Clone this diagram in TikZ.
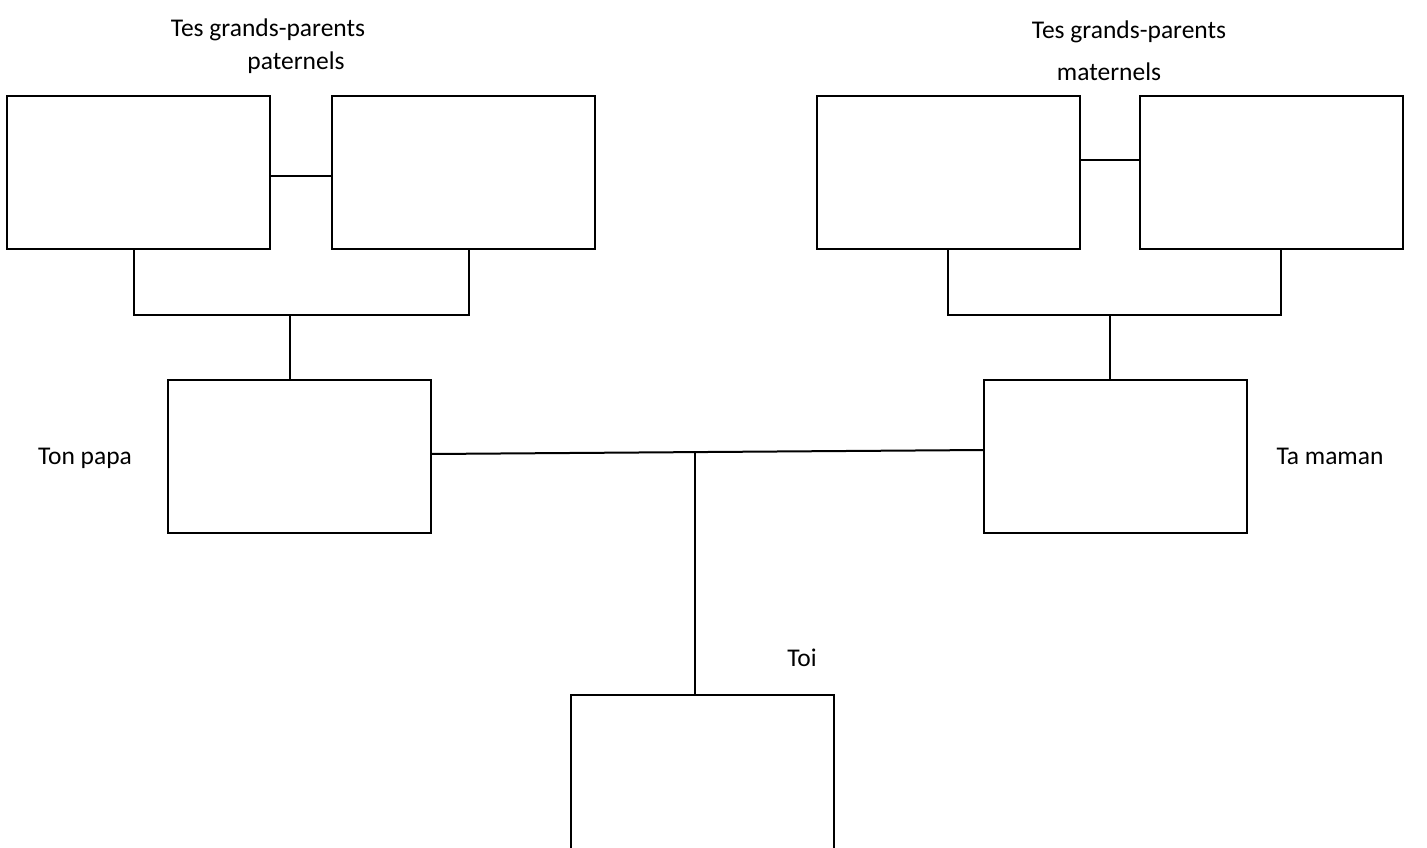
\documentclass[tikz,border=0pt]{standalone}
\usepackage{fontspec}
\setmainfont{Carlito}
\begin{document}
\begin{tikzpicture}[x=1pt,y=-1pt,
  box/.style={draw,line width=2pt,minimum width=263pt,minimum height=153pt,inner sep=0pt,anchor=north west},
  link/.style={draw,line width=2pt},
  lbl/.style={font=\fontsize{25.5}{30}\selectfont,anchor=base,inner sep=0pt}]
\useasboundingbox (0,0) rectangle (1427,848);
\begin{scope}
\clip (0,0) rectangle (1427,848);
% boxes
\node[box] (pgf) at (6,95) {};
\node[box] (pgm) at (331,95) {};
\node[box] (mgf) at (816,95) {};
\node[box] (mgm) at (1139,95) {};
\node[box] (papa) at (167,379) {};
\node[box] (maman) at (983,379) {};
\node[box,minimum height=200pt] (toi) at (570,694) {};
% couple links
\draw[link] (pgf.east |- 0,176) -- (pgm.west |- 0,176);
\draw[link] (mgf.east |- 0,160) -- (mgm.west |- 0,160);
% paternal bracket
\coordinate (pl) at (134,315);
\coordinate (pr) at (469,315);
\draw[link] (pgf.south -| pl) -- (pl) -- (pr) -- (pgm.south -| pr);
\draw[link] (papa.north -| 290,0) -- (290,315);
% maternal bracket
\coordinate (ml) at (948,315);
\coordinate (mr) at (1281,315);
\draw[link] (mgf.south -| ml) -- (ml) -- (mr) -- (mgm.south -| mr);
\draw[link] (maman.north -| 1110,0) -- (1110,315);
% parents link
\coordinate (pa) at (431,454);
\coordinate (ma) at (984,450);
\coordinate (mid) at (695,451);
\draw[link] (pa) -- (ma);
\draw[link] (toi.north -| mid) -- (mid);
\end{scope}
% labels
\node[lbl] (t1) at (268,37) {Tes grands-parents};
\node[lbl] (t2) at (296,70) {paternels};
\node[lbl] (t3) at (1129,39) {Tes grands-parents};
\node[lbl] (t4) at (1109,81) {maternels};
\node[lbl] (t5) at (85,464) {Ton papa};
\node[lbl] (t6) at (1330,464) {Ta maman};
\node[lbl] (t7) at (802,666) {Toi};
\end{tikzpicture}
\end{document}
